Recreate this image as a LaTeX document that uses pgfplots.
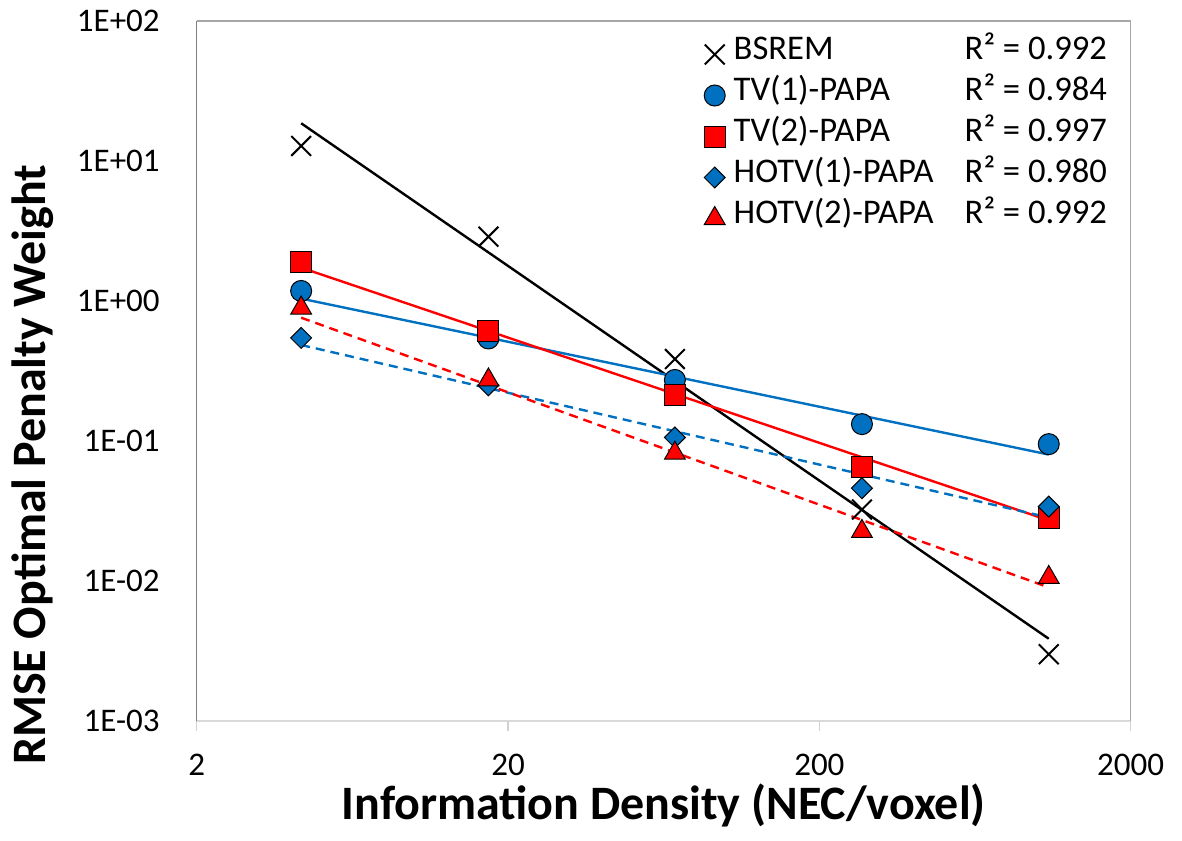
\documentclass[border=0pt]{standalone}
\usepackage{pgfplots}
\pgfplotsset{compat=1.18}
\usepackage{fontspec}
\setmainfont{Carlito}
\definecolor{xlblue}{HTML}{0070C0}
\definecolor{xlred}{HTML}{FF0000}
\begin{document}
\begin{tikzpicture}
\begin{axis}[
  at={(0,0)}, anchor=south west,
  width=467pt, height=350pt, scale only axis,
  xmode=log, ymode=log,
  xmin=1.9999, xmax=2000.1, ymin=0.99999e-3, ymax=1.00001e2,
  xtick={2,20,200,2000}, xticklabels={2,20,200,2000},
  ytick={1e-3,1e-2,1e-1,1,10,100},
  yticklabels={1E-03,1E-02,1E-01,1E+00,1E+01,1E+02},
  minor tick num=0, minor tick length=0pt,
  tick align=outside, major tick length=5pt,
  xtick pos=bottom, ytick pos=left,
  ytick style={draw=none},
  xtick style={color=black!18, line width=0.6pt},
  axis line style={draw=none},
  clip=false,
  tick label style={font=\fontsize{16.5}{19}\selectfont},
  xticklabel style={yshift=-8pt},
  yticklabel style={xshift=-10pt},
  xlabel={Information Density (NEC/voxel)},
  ylabel={RMSE Optimal Penalty Weight},
  xlabel style={font=\fontsize{24}{28}\selectfont\bfseries, at={(rel axis cs:0.5,0)}, anchor=center, yshift=-42pt},
  ylabel style={font=\fontsize{24}{28}\selectfont\bfseries, at={(rel axis cs:0,0.366)}, anchor=center, yshift=82pt},
  legend image code/.code={\path (-8pt,0pt) (8pt,0pt); \draw[#1] plot coordinates {(0pt,0pt)};},
  legend cell align=left,
  legend style={draw=none, fill=none, inner sep=0pt, at={(rel axis cs:0.536,0.982)}, anchor=north west,
    font=\fontsize{17.3}{20}\selectfont, row sep=0pt, column sep=0pt,
    nodes={inner sep=1pt, text height=11.75pt, text depth=6.75pt}},
]
\draw[black!15, line width=0.6pt] (rel axis cs:0,0) -- (rel axis cs:1,0);
\draw[black!35, line width=0.6pt] (rel axis cs:0,1) -- (rel axis cs:1,1) -- (rel axis cs:1,0);
\draw[black!50, line width=0.6pt] (rel axis cs:0,0) -- (rel axis cs:0,1);

% data series
\addplot[only marks, mark=x, mark size=7pt, line width=1pt, black]
  coordinates {(4.33,12.8)(17.3,2.88)(68.7,0.385)(274,0.0324)(1091,0.0030)};
\addlegendentry{\makebox[115.5pt][l]{BSREM}R² = 0.992}
\addplot[only marks, mark=*, mark size=5.25pt, draw=black, line width=0.5pt, fill=xlblue]
  coordinates {(4.33,1.18)(17.3,0.54)(68.7,0.273)(274,0.132)(1091,0.095)};
\addlegendentry{\makebox[115.5pt][l]{TV(1)-PAPA}R² = 0.984}
\addplot[only marks, mark=square*, mark size=5.25pt, draw=black, line width=0.5pt, fill=xlred]
  coordinates {(4.33,1.91)(17.3,0.61)(68.7,0.213)(274,0.0649)(1091,0.0284)};
\addlegendentry{\makebox[115.5pt][l]{TV(2)-PAPA}R² = 0.997}
\addplot[only marks, mark=square*, mark size=3.7pt, mark options={rotate=45}, draw=black, line width=0.5pt, fill=xlblue]
  coordinates {(4.33,0.545)(17.3,0.25)(68.7,0.106)(274,0.046)(1091,0.034)};
\addlegendentry{\makebox[115.5pt][l]{HOTV(1)-PAPA}R² = 0.980}
\addplot[only marks, mark=triangle*, mark size=6pt, draw=black, line width=0.5pt, fill=xlred]
  coordinates {(4.33,0.89)(17.3,0.273)(68.7,0.0818)(274,0.0226)(1091,0.0106)};
\addlegendentry{\makebox[115.5pt][l]{HOTV(2)-PAPA}R² = 0.992}

% power-law trendlines (end points)
\addplot[forget plot, black, line width=1.2pt] coordinates {(4.33,18.6)(1091,0.00387)};
\addplot[forget plot, xlblue, line width=1.2pt] coordinates {(4.33,1.04)(1091,0.080)};
\addplot[forget plot, xlred, line width=1.2pt] coordinates {(4.33,1.73)(1091,0.0271)};
\addplot[forget plot, xlblue, line width=1.2pt, dash pattern=on 4.5pt off 3pt] coordinates {(4.33,0.485)(1091,0.0284)};
\addplot[forget plot, xlred, line width=1.2pt, dash pattern=on 4.5pt off 3pt] coordinates {(4.33,0.76)(1091,0.0090)};
\end{axis}
\path[use as bounding box] (-98.35pt,-59.5pt) rectangle (492.65pt,360.5pt);
\end{tikzpicture}
\end{document}
